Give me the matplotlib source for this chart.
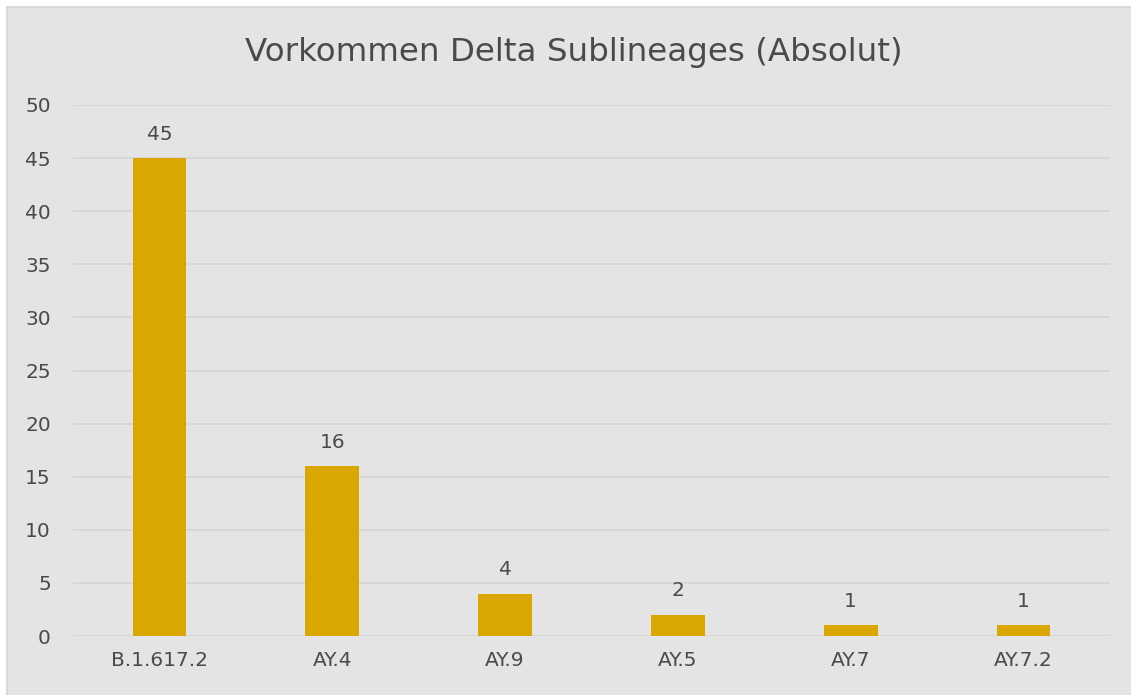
import matplotlib
matplotlib.use("Agg")
import matplotlib.pyplot as plt
from matplotlib.patches import Rectangle

lineages = ["B.1.617.2", "AY.4", "AY.9", "AY.5", "AY.7", "AY.7.2"]
counts = [45, 16, 4, 2, 1, 1]
y_ticks = [0, 5, 10, 15, 20, 25, 30, 35, 40, 45, 50]

bg = "#e4e4e4"
txt = "#4a4a4a"
bar_col = "#daa700"

fig = plt.figure(figsize=(11.31, 6.95), dpi=100, facecolor="white")
# grauer Diagrammbereich mit Rand
fig.patches.append(Rectangle((7 / 1131, -0.01), 1.0, 1 - 7 / 695 + 0.01,
                             transform=fig.transFigure, facecolor=bg,
                             edgecolor="#d4d4d4", linewidth=1.2, zorder=-5))

axes = fig.add_axes([73 / 1131, 1 - 636 / 695, (1110 - 73) / 1131, (636 - 105) / 695])
axes.set_facecolor("none")
pos = list(range(len(lineages)))
bars = axes.bar(pos, counts, width=0.31, color=bar_col, zorder=3)
for p, v in zip(pos, counts):
    axes.text(p, v + 1.35, str(v), ha="center", va="bottom", fontsize=14.5, color=txt)

axes.set_xlim(-0.5, len(lineages) - 0.5)
axes.set_ylim(0, 50)
axes.set_yticks(y_ticks)
axes.set_xticks(pos)
axes.set_xticklabels(lineages)
axes.tick_params(axis="both", length=0, labelsize=14.5, labelcolor=txt)
axes.tick_params(axis="x", pad=11)
axes.tick_params(axis="y", pad=16)
axes.grid(axis="y", color="#d6d6d6", linewidth=1.3, zorder=0)
for s in axes.spines.values():
    s.set_visible(False)

fig.text(0.507, 1 - 52 / 695, "Vorkommen Delta Sublineages (Absolut)",
         ha="center", va="center", fontsize=23.4, color=txt)

fig.savefig("out.png", dpi=100, facecolor="white")
